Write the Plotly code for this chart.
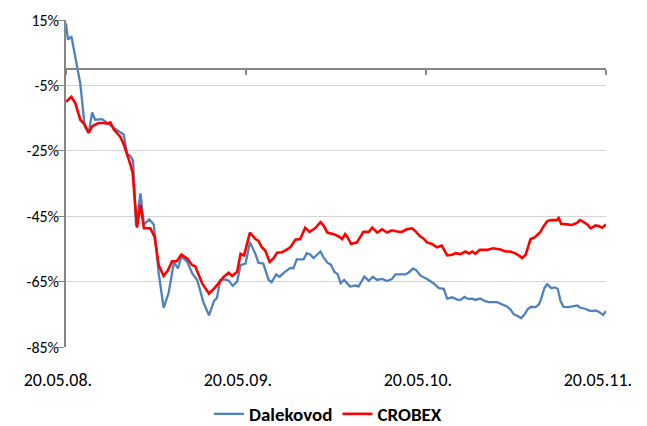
import pandas as pd
import plotly.graph_objects as go

start = pd.Timestamp("2008-05-20")
tick_dates = ["2008-05-20", "2009-05-20", "2010-05-20", "2011-05-20"]
tick_labels = ["20.05.08.", "20.05.09.", "20.05.10.", "20.05.11."]
y_ticks = [15, -5, -25, -45, -65, -85]
y_labels = ["15%", "-5%", "-25%", "-45%", "-65%", "-85%"]

dal_days = [0, 4, 11, 19, 29, 38, 46, 53, 59, 73, 83, 93, 104, 117, 124, 130, 136, 142, 151, 158,
            169, 178, 188, 198, 208, 219, 227, 234, 246, 256, 266, 279, 290, 300, 306, 313, 323, 330,
            338, 347, 354, 364, 373, 384, 390, 400, 411, 417, 426, 433, 444, 455, 461, 468, 482, 488,
            495, 502, 509, 516, 522, 530, 537, 544, 551, 557, 564, 576, 587, 593, 605, 614, 622, 631,
            641, 651, 661, 668, 688, 695, 704, 710, 719, 732, 745, 756, 766, 773, 783, 793, 800, 808,
            815, 824, 830, 840, 850, 857, 874, 884, 894, 901, 908, 916, 923, 930, 936, 943, 952, 959,
            963, 970, 976, 984, 991, 997, 1003, 1009, 1019, 1030, 1037, 1043, 1053, 1060, 1067, 1074,
            1080, 1089, 1095]
dal_vals = [14, 9, 10, 3.5, -4.5, -17.5, -19.5, -13.3, -15.5, -15.3, -16.5, -17.5, -18.7, -20, -26,
            -26.5, -28, -48, -38, -47.5, -46, -47.5, -62.5, -73, -68.5, -59, -61, -57.3, -59, -62.5,
            -64.5, -71.5, -75.3, -71, -70, -64.5, -64.3, -64.7, -66.3, -65, -60, -59.5, -53, -56.5,
            -59.2, -59.5, -64.5, -65.2, -62.8, -63.5, -62, -60.8, -61, -58.2, -58.2, -56.3, -56.7,
            -57.8, -56.8, -55.8, -57.5, -59.2, -59.8, -62, -62.8, -65.5, -64.5, -66.5, -66.2, -66.5,
            -63.5, -64.8, -63.5, -64.5, -64.2, -64.8, -64.2, -62.8, -62.8, -62.2, -61, -61.5, -63.2,
            -64.2, -65.5, -67, -67.2, -70.2, -69.8, -70.5, -70.6, -69.7, -70.3, -70.2, -70.6, -70.2,
            -71, -71.3, -71.3, -72, -72.6, -73.5, -75, -75.5, -76.2, -75, -73.5, -72.7, -72.8, -72,
            -70.5, -67, -65.8, -67, -66.8, -67.2, -71, -72.7, -72.8, -72.5, -72.3, -73, -73.3, -73.8,
            -74, -73.8, -74.2, -75.2, -74]

cro_days = [0, 11, 19, 29, 38, 46, 53, 66, 77, 83, 90, 97, 110, 117, 127, 135, 144, 151, 158, 171,
            180, 188, 198, 207, 215, 225, 234, 246, 256, 262, 276, 290, 303, 320, 330, 337, 347, 354,
            361, 373, 384, 390, 397, 404, 413, 421, 428, 438, 444, 455, 465, 475, 485, 494, 505, 516,
            522, 530, 543, 553, 560, 566, 571, 578, 590, 603, 614, 621, 631, 641, 651, 661, 671, 681,
            691, 702, 708, 719, 725, 732, 742, 752, 762, 773, 783, 790, 800, 810, 817, 824, 830, 839,
            854, 866, 881, 891, 901, 910, 918, 925, 932, 936, 942, 950, 961, 968, 976, 984, 995, 999,
            1004, 1016, 1026, 1037, 1042, 1050, 1057, 1064, 1074, 1080, 1087, 1095]
cro_vals = [-10, -8.5, -10.5, -15.5, -17, -19.5, -17.5, -16.5, -16.5, -16.7, -16.3, -18.5, -20.7, -23,
            -27.5, -31.5, -48.5, -41.5, -48.7, -48.7, -51.5, -60, -63.3, -61.5, -58.8, -58.7, -56.7,
            -58, -60, -60.3, -65.5, -68.7, -66.7, -63.5, -62.3, -63.3, -62, -56.5, -57, -50, -52,
            -52.5, -54.5, -55.5, -59, -57.8, -56.2, -56, -55.5, -54.5, -52.2, -52, -48.5, -49.8,
            -48.7, -46.8, -47.8, -50, -50.5, -51.2, -52, -50.5, -51.5, -53.5, -53, -49.8, -49.8,
            -48.5, -50, -49, -50, -49.3, -49.7, -49.8, -49, -48.7, -49.5, -51.3, -51.8, -53, -53.5,
            -54.5, -54, -57, -56.8, -56.3, -56.6, -55.8, -56.4, -55.8, -56.5, -55.3, -55.3, -54.8,
            -55.2, -55.8, -55.8, -56.3, -57, -57.8, -56.8, -54.8, -52, -51.5, -50, -48.2, -46.5,
            -46.2, -46.2, -45.5, -47.3, -47.5, -47.7, -47, -46.2, -46.8, -47.5, -48.7, -47.8, -48,
            -48.5, -47.5]

dal_x = start + pd.to_timedelta(dal_days, unit="D")
cro_x = start + pd.to_timedelta(cro_days, unit="D")
x_range = [tick_dates[0], tick_dates[-1]]
# trailing no-break spaces nudge each centred label a little left of its tick, as in the original
label_text = [t + "\u00a0" * 4 for t in tick_labels]

FONT = "Carlito, Liberation Sans, Arial, sans-serif"

fig = go.Figure()
fig.add_trace(go.Scatter(x=dal_x, y=dal_vals, mode="lines", name="Dalekovod",
                         line=dict(color="#4f81bd", width=2.3)))
fig.add_trace(go.Scatter(x=cro_x, y=cro_vals, mode="lines", name="CROBEX",
                         line=dict(color="#ff0000", width=2.6)))
# invisible trace that carries the zero-line tick axis
fig.add_trace(go.Scatter(x=x_range, y=[0, 0], mode="lines", xaxis="x2",
                         line=dict(width=0, color="rgba(0,0,0,0)"),
                         showlegend=False, hoverinfo="skip"))

W, H = 639, 418  # page adds an 8px body margin
fig.update_layout(
    width=W, height=H,
    margin=dict(l=58, r=41, t=12, b=79, autoexpand=False),
    paper_bgcolor="white", plot_bgcolor="white",
    font=dict(family=FONT, color="#000000"),
    showlegend=True,
    legend=dict(orientation="h", x=0.485, xanchor="center", xref="paper",
                y=1 - 406 / H, yanchor="middle", yref="container",
                font=dict(size=19, family=FONT, weight="bold"),
                tracegroupgap=0, itemwidth=30),
    xaxis=dict(range=x_range, tickvals=tick_dates, ticktext=label_text,
               showgrid=False, showline=False, ticks="", zeroline=False, automargin=False,
               tickfont=dict(size=18), ticklabelstandoff=20, ticklabeloverflow="allow"),
    xaxis2=dict(range=x_range, overlaying="x", anchor="free", position=0.85,
                tickvals=tick_dates, showticklabels=False, ticks="outside", ticklen=5,
                tickcolor="#868686", tickwidth=1.5, showline=True, linecolor="#868686",
                linewidth=1.5, showgrid=False, zeroline=False, automargin=False),
    yaxis=dict(range=[-85, 15], tickvals=y_ticks, ticktext=y_labels,
               showgrid=True, gridcolor="#d4d4d4", gridwidth=1, automargin=False,
               showline=True, linecolor="#868686", linewidth=1.5,
               ticks="outside", ticklen=6, tickcolor="#868686",
               zeroline=False, tickfont=dict(size=16), ticklabelstandoff=-4),
)

fig.write_html("out.html")
